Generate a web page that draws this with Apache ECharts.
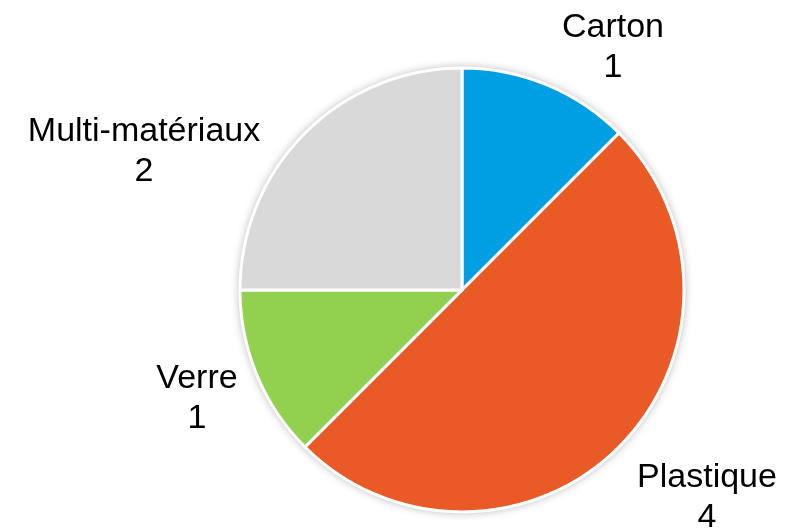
<!DOCTYPE html>
<html>
<head>
<meta charset="utf-8">
<script src="https://cdn.jsdelivr.net/npm/echarts@6/dist/echarts.min.js"></script>
<style>
  html, body { margin: 0; padding: 0; background: #fff; }
  #chart { width: 788px; height: 530px; }
</style>
</head>
<body>
<div id="chart"></div>
<script>
// données
const categories = ['Carton', 'Plastique', 'Verre', 'Multi-matériaux'];
const values = [1, 4, 1, 2];
const colors = ['#009FE3', '#E95A26', '#92D050', '#D9D9D9'];

// position des étiquettes (centre du bloc de texte)
const labelPos = [[613, 48], [707, 498], [197, 399], [144, 152]];

const chart = echarts.init(document.getElementById('chart'));

const optionData = {
  animation: false,
  series: [
    {
      // ombre derrière le camembert
      type: 'pie',
      silent: true,
      center: [462, 290],
      radius: 222,
      z: 1,
      label: { show: false },
      labelLine: { show: false },
      itemStyle: {
        color: '#fff',
        shadowBlur: 10,
        shadowColor: 'rgba(0,0,0,0.35)'
      },
      data: [1]
    },
    {
      type: 'pie',
      center: [462, 290],
      radius: 222,
      startAngle: 90,
      clockwise: true,
      z: 2,
      itemStyle: {
        borderColor: '#fff',
        borderWidth: 3
      },
      label: {
        show: true,
        position: 'outside',
        formatter: '{b}\n{c}',
        fontFamily: 'Liberation Sans, Arial, sans-serif',
        fontSize: 34,
        lineHeight: 40,
        color: '#000',
        align: 'center',
        overflow: 'none'
      },
      labelLine: { show: false },
      labelLayout: function (params) {
        const p = labelPos[params.dataIndex];
        return { x: p[0], y: p[1], align: 'center', verticalAlign: 'middle' };
      },
      data: categories.map((name, i) => ({
        name: name,
        value: values[i],
        itemStyle: { color: colors[i] }
      }))
    }
  ]
};

chart.setOption(optionData);
</script>
</body>
</html>
